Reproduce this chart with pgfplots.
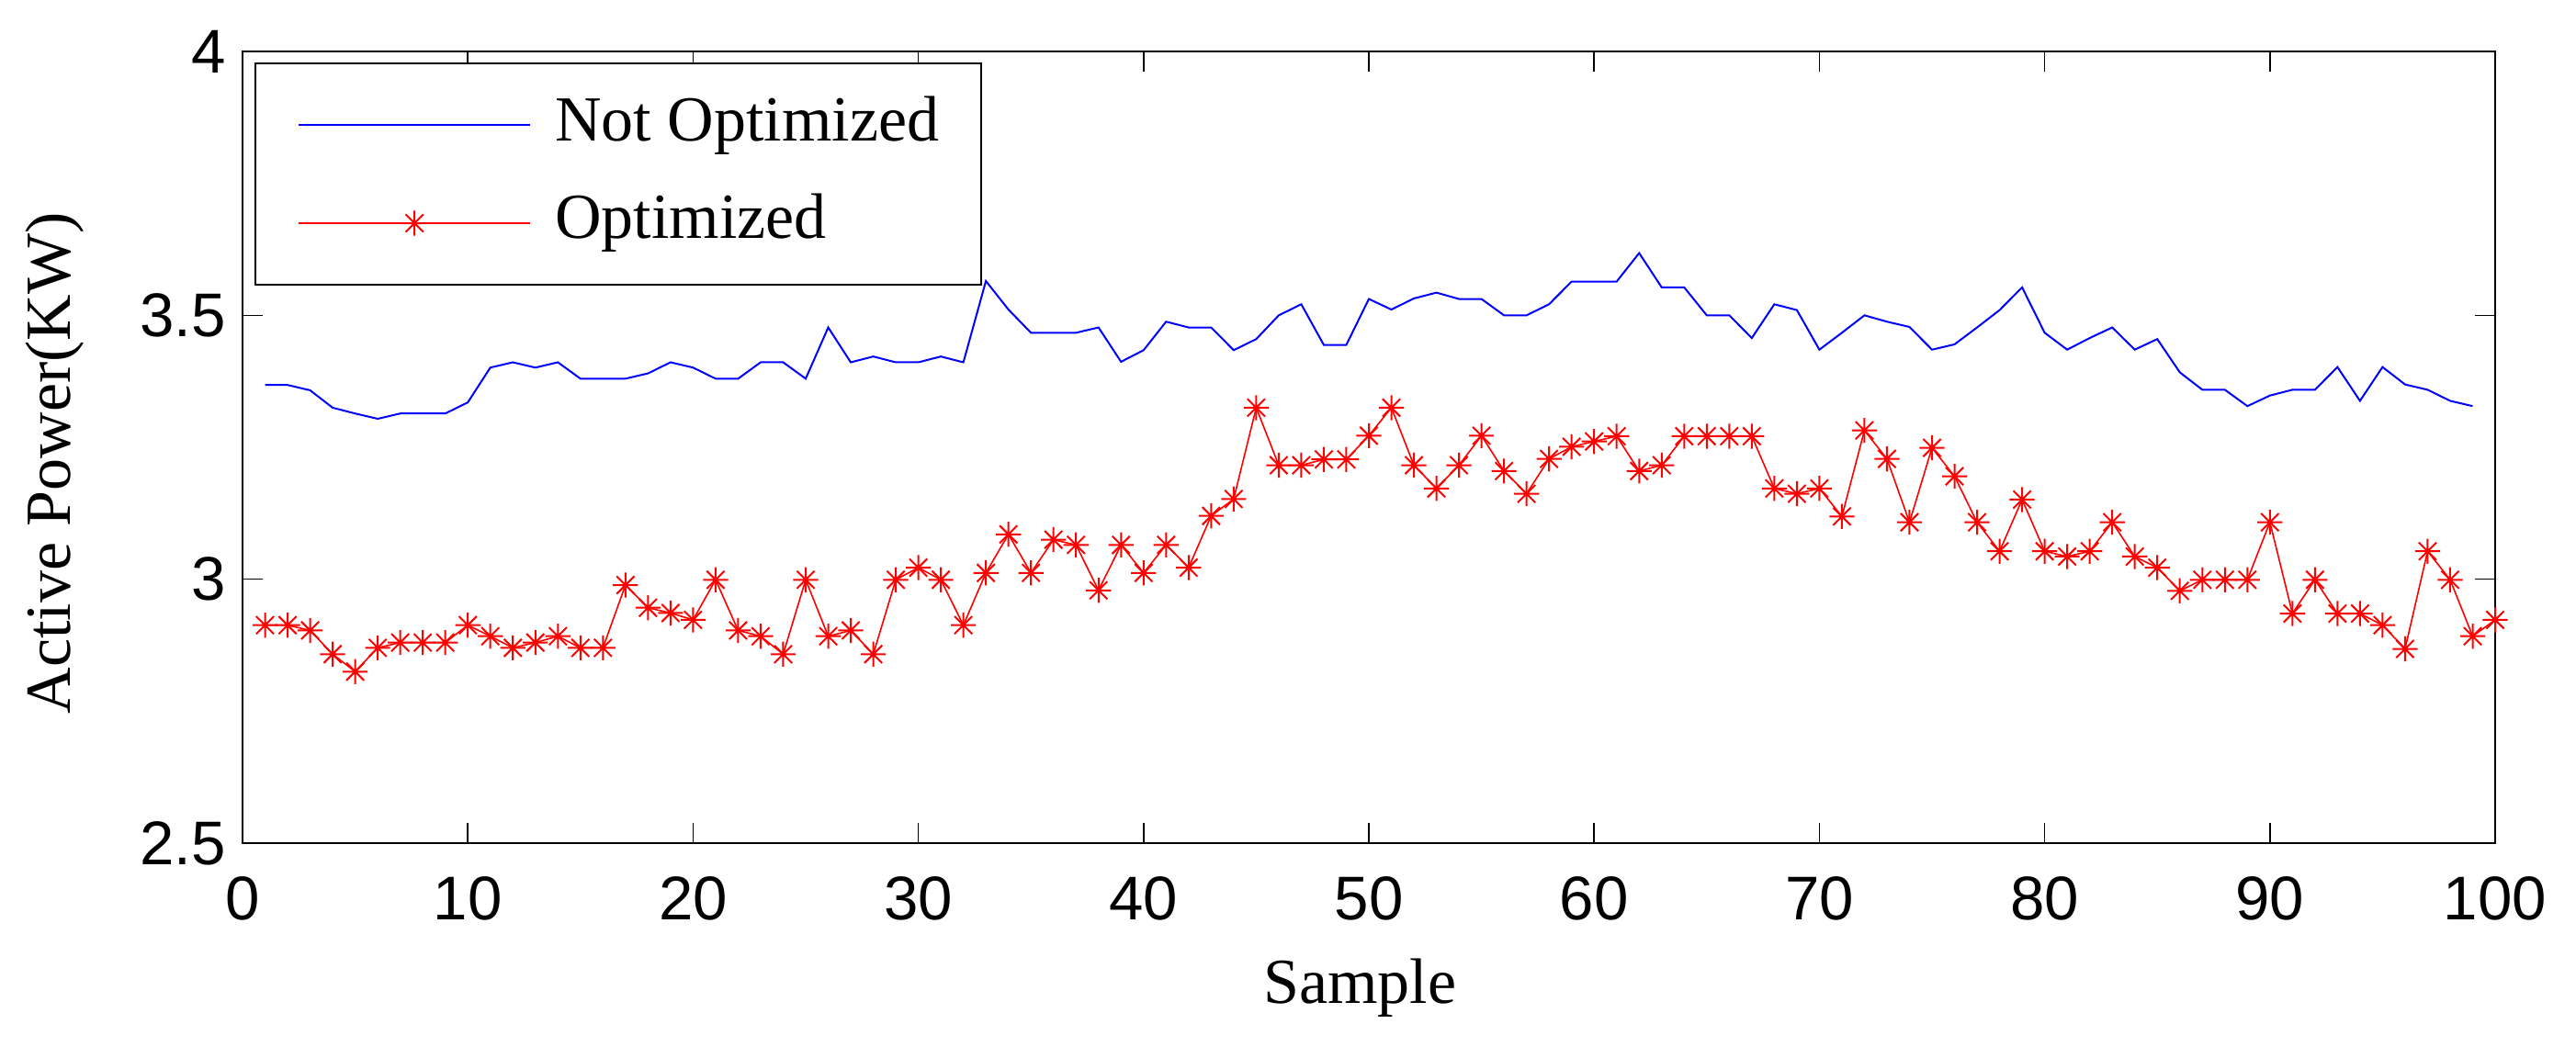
\documentclass[border=0pt]{standalone}
\usepackage{fontspec}
\setmainfont{Liberation Serif}
\newfontfamily\tickfont{Liberation Sans}
\usepackage{pgfplots}
\pgfplotsset{compat=1.18}
\pgfdeclareplotmark{mstar}{%
  \pgfpathmoveto{\pgfqpoint{-\pgfplotmarksize}{0pt}}\pgfpathlineto{\pgfqpoint{\pgfplotmarksize}{0pt}}%
  \pgfpathmoveto{\pgfqpoint{0pt}{-\pgfplotmarksize}}\pgfpathlineto{\pgfqpoint{0pt}{\pgfplotmarksize}}%
  \pgfpathmoveto{\pgfqpoint{-.7071\pgfplotmarksize}{-.7071\pgfplotmarksize}}\pgfpathlineto{\pgfqpoint{.7071\pgfplotmarksize}{.7071\pgfplotmarksize}}%
  \pgfpathmoveto{\pgfqpoint{-.7071\pgfplotmarksize}{.7071\pgfplotmarksize}}\pgfpathlineto{\pgfqpoint{.7071\pgfplotmarksize}{-.7071\pgfplotmarksize}}%
  \pgfusepathqstroke}
\pgfplotstableread{
x y
1 3.368
2 3.368
3 3.358
4 3.325
5 3.314
6 3.304
7 3.314
8 3.314
9 3.314
10 3.335
11 3.401
12 3.411
13 3.401
14 3.411
15 3.380
16 3.380
17 3.380
18 3.390
19 3.411
20 3.401
21 3.380
22 3.380
23 3.411
24 3.411
25 3.380
26 3.477
27 3.411
28 3.422
29 3.411
30 3.411
31 3.422
32 3.411
33 3.565
34 3.511
35 3.467
36 3.467
37 3.467
38 3.477
39 3.412
40 3.434
41 3.488
42 3.477
43 3.477
44 3.434
45 3.455
46 3.500
47 3.521
48 3.444
49 3.444
50 3.531
51 3.511
52 3.532
53 3.543
54 3.531
55 3.531
56 3.500
57 3.500
58 3.521
59 3.564
60 3.564
61 3.564
62 3.618
63 3.553
64 3.553
65 3.500
66 3.500
67 3.457
68 3.521
69 3.510
70 3.435
71 3.467
72 3.500
73 3.488
74 3.478
75 3.435
76 3.445
77 3.477
78 3.510
79 3.553
80 3.467
81 3.435
82 3.457
83 3.477
84 3.435
85 3.455
86 3.392
87 3.359
88 3.359
89 3.328
90 3.348
91 3.359
92 3.359
93 3.402
94 3.338
95 3.402
96 3.369
97 3.359
98 3.338
99 3.328
}\notopt
\pgfplotstableread{
x y
1 2.913
2 2.913
3 2.903
4 2.858
5 2.825
6 2.870
7 2.880
8 2.880
9 2.880
10 2.913
11 2.892
12 2.870
13 2.880
14 2.892
15 2.870
16 2.870
17 2.989
18 2.946
19 2.936
20 2.923
21 2.999
22 2.903
23 2.892
24 2.858
25 2.999
26 2.892
27 2.903
28 2.858
29 2.999
30 3.022
31 2.999
32 2.913
33 3.012
34 3.085
35 3.012
36 3.075
37 3.065
38 2.979
39 3.065
40 3.012
41 3.065
42 3.022
43 3.120
44 3.152
45 3.325
46 3.216
47 3.216
48 3.227
49 3.227
50 3.272
51 3.325
52 3.216
53 3.172
54 3.216
55 3.272
56 3.205
57 3.162
58 3.228
59 3.251
60 3.261
61 3.271
62 3.205
63 3.216
64 3.271
65 3.271
66 3.271
67 3.271
68 3.172
69 3.162
70 3.172
71 3.119
72 3.282
73 3.228
74 3.108
75 3.249
76 3.195
77 3.108
78 3.053
79 3.151
80 3.053
81 3.043
82 3.053
83 3.108
84 3.043
85 3.022
86 2.978
87 2.999
88 2.999
89 2.999
90 3.108
91 2.935
92 2.999
93 2.935
94 2.935
95 2.913
96 2.868
97 3.053
98 2.999
99 2.892
100 2.923
}\opt
\begin{document}
\begin{tikzpicture}
\path[use as bounding box] (-66pt,-55.25pt) rectangle (635pt,229.5pt);
\begin{axis}[
  scale only axis,
  width=613pt, height=215.5pt,
  at={(0,0)}, anchor=south west,
  xmin=0, xmax=100, ymin=2.5, ymax=4,
  xtick={0,10,...,100},
  ytick={2.5,3,3.5,4},
  tick align=inside,
  major tick length=5.5pt,
  axis line style={line width=0.5pt},
  every tick/.style={black, line width=0.4pt},
  /pgf/number format/assume math mode=true,
  ticklabel style={font=\tickfont\fontsize{16.8}{20}\selectfont},
  xticklabel style={anchor=base, yshift=-20.75pt},
  yticklabel style={anchor=east, xshift=-1pt},
  xlabel={Sample},
  ylabel={Active Power(KW)},
  label style={font=\fontsize{17.5}{21}\selectfont},
  xlabel style={at={(axis description cs:0.496,0)}, anchor=base, yshift=-43.5pt},
  ylabel style={at={(axis description cs:-0.0763,0.48)}, anchor=base, rotate=0},
  legend style={at={(0,1)}, anchor=north west, xshift=3.25pt, yshift=-3pt,
    draw=black, line width=0.6pt, inner xsep=11.5pt, inner ysep=8.75pt,
    row sep=10.7pt, column sep=6.5pt,
    nodes={inner sep=0pt, text depth=},
    font=\fontsize{17.5}{21}\selectfont},
  legend cell align=left,
  legend image code/.code={\draw[mark repeat=2,mark phase=2,#1] plot coordinates {(0pt,0pt) (31.5pt,0pt) (63pt,0pt)};},
]
\addplot[color=blue, line width=0.5pt, no marks] table[x=x,y=y] {\notopt};
\addlegendentry{\rule[-3.8pt]{0pt}{16pt}Not Optimized}
\addplot[color=red, line width=0.4pt, mark=mstar, mark size=3.4pt, mark options={line width=0.5pt}] table[x=x,y=y] {\opt};
\addlegendentry{\rule[-3.8pt]{0pt}{16pt}Optimized}
\end{axis}
\end{tikzpicture}
\end{document}
